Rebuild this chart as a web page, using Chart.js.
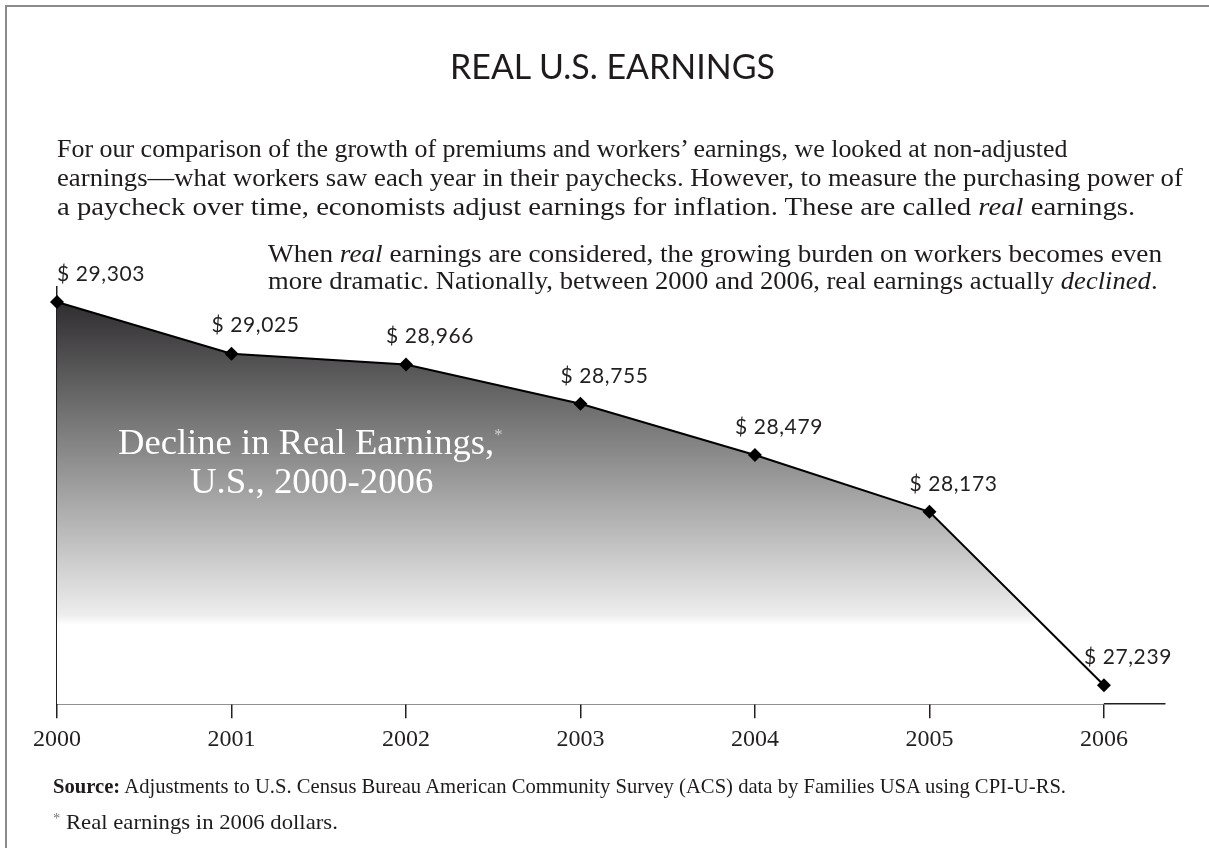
<!DOCTYPE html>
<html>
<head>
<meta charset="utf-8">
<script src="https://cdn.jsdelivr.net/npm/chart.js@4.4.0/dist/chart.umd.min.js"></script>
<style>
html, body { margin: 0; padding: 0; background: #fff; }
#page { position: relative; width: 1209px; height: 848px; overflow: hidden; background: #fff; }
#frame { position: absolute; left: 5px; top: 5px; width: 1220px; height: 860px;
         border-left: 2px solid #8c8c8c; border-top: 2px solid #8c8c8c; }
#earningsChart { position: absolute; left: 0; top: 0; }
.t { position: absolute; white-space: nowrap; line-height: 1.2; color: #1f1b1c; transform-origin: 0 0; }
</style>
</head>
<body>
<div id="page">
  <div id="frame"></div>
  <canvas id="earningsChart" width="1209" height="848"></canvas>
  <div id="texts"></div>
</div>
<script>
// chart data
var years = [2000, 2001, 2002, 2003, 2004, 2005, 2006];
var earnings = [29303, 29025, 28966, 28755, 28479, 28173, 27239];
var yearTicks = [2000, 2001, 2002, 2003, 2004, 2005, 2006];

var SERIF = '"Liberation Serif", "Times New Roman", serif';
var SANS = 'Lato, "Open Sans", sans-serif';

// text lines: html, left, cap-middle y, font size, family, target width, extra css
var lines = [
  ['REAL U.S. EARNINGS', 450, 66, 35, SANS, 325, ''],
  ['For our comparison of the growth of premiums and workers\u2019 earnings, we looked at non-adjusted', 57, 149, 26, SERIF, 1011, ''],
  ['earnings\u2014what workers saw each year in their paychecks. However, to measure the purchasing power of', 57, 178, 26, SERIF, 1126, ''],
  ['a paycheck over time, economists adjust earnings for inflation. These are called <i>real</i> earnings.', 57, 207, 26, SERIF, 1078, ''],
  ['When <i>real</i> earnings are considered, the growing burden on workers becomes even', 268, 254, 25, SERIF, 894, ''],
  ['more dramatic. Nationally, between 2000 and 2006, real earnings actually <i>declined</i>.', 268, 281, 25, SERIF, 890, ''],
  ['Decline in Real Earnings,<sup style="font-size:16px;color:#d0d0d0;vertical-align:14px">*</sup>', 118, 443, 35, SERIF, 385, 'color:#fff;'],
  ['U.S., 2000-2006', 190, 482, 35, SERIF, 243, 'color:#fff;'],
  ['<b>Source:</b> Adjustments to U.S. Census Bureau American Community Survey (ACS) data by Families USA using CPI-U-RS.', 53, 786, 22, SERIF, 1013, ''],
  ['<span style="font-size:14px;vertical-align:6px;color:#777">*</span> Real earnings in 2006 dollars.', 53, 822, 22, SERIF, 285, '']
];

var holder = document.getElementById('texts');
lines.forEach(function(l) {
  var el = document.createElement('div');
  el.className = 't';
  el.innerHTML = l[0];
  el.style.cssText += 'left:' + l[1] + 'px;font-size:' + l[3] + 'px;font-family:' + l[4] + ';' + l[6];
  // cap middle sits about 0.61em (serif) / 0.63em (Lato) below the top of the line box
  var k = l[4] === SANS ? 0.63 : 0.61;
  el.style.top = (l[2] - k * l[3]) + 'px';
  holder.appendChild(el);
  var w = el.offsetWidth;
  if (w > 0) el.style.transform = 'scaleX(' + (l[5] / w) + ')';
});

// labels above each point
var pointLabels = {
  id: 'pointLabels',
  afterDatasetsDraw: function(chart) {
    var ctx = chart.ctx;
    var area = chart.chartArea;
    var pts = chart.getDatasetMeta(0).data;
    ctx.save();
    ctx.font = '21px ' + SANS;
    ctx.letterSpacing = '0.6px';
    ctx.fillStyle = '#231f20';
    ctx.textAlign = 'left';
    ctx.textBaseline = 'middle';
    pts.forEach(function(p, i) {
      var txt = '$ ' + earnings[i].toLocaleString('en-US');
      var w = ctx.measureText(txt).width;
      var x = Math.max(area.left, p.x + 24 - w / 2);
      ctx.fillText(txt, x, p.y - 28);
    });
    ctx.restore();
  }
};

var ctx = document.getElementById('earningsChart').getContext('2d');
var myChart = new Chart(ctx, {
  type: 'line',
  data: {
    datasets: [{
      data: years.map(function(y, i) { return { x: y, y: earnings[i] }; }),
      borderColor: '#000',
      borderWidth: 2,
      tension: 0,
      fill: 'start',
      clip: false,
      pointStyle: 'rectRot',
      pointRadius: 7,
      pointBorderWidth: 0,
      pointBackgroundColor: '#000',
      backgroundColor: function(context) {
        var chart = context.chart;
        var area = chart.chartArea;
        if (!area) return '#555';
        var g = chart.ctx.createLinearGradient(0, area.top, 0, area.top + 0.81 * (area.bottom - area.top));
        g.addColorStop(0, '#262426');
        g.addColorStop(0.97, '#ededed');
        g.addColorStop(1, '#ffffff');
        return g;
      }
    }]
  },
  options: {
    responsive: false,
    animation: false,
    layout: { padding: { left: 57, top: 287, right: 44, bottom: 87 } },
    plugins: { legend: { display: false }, tooltip: { enabled: false } },
    scales: {
      x: {
        type: 'linear',
        min: 2000,
        max: 2006.35,
        afterBuildTicks: function(scale) {
          scale.ticks = yearTicks.map(function(v) { return { value: v }; });
        },
        ticks: {
          padding: 7,
          color: '#231f20',
          font: { family: SERIF, size: 24 },
          maxRotation: 0,
          callback: function(v) { return String(v); }
        },
        grid: { display: true, drawOnChartArea: false, drawTicks: true, tickLength: 14, color: '#231f20', lineWidth: 1.5 },
        border: { display: true, color: '#231f20', width: 1.5 }
      },
      y: {
        min: 27137,
        max: 29384,
        ticks: { display: false },
        grid: { display: false, drawTicks: false },
        border: { display: true, color: '#231f20', width: 1.5 }
      }
    }
  },
  plugins: [pointLabels]
});
</script>
</body>
</html>
